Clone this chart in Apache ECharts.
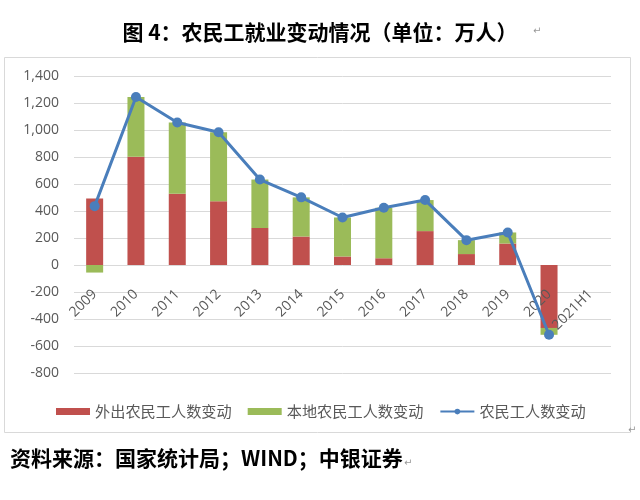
<!DOCTYPE html>
<html><head><meta charset="utf-8">
<script src="https://cdn.jsdelivr.net/npm/echarts@6/dist/echarts.min.js"></script>
<style>html,body{margin:0;padding:0;background:#fff}#c{width:640px;height:500px}</style>
</head><body><div id="c"></div>
<script>
const categories = ['2009','2010','2011','2012','2013','2014','2015','2016','2017','2018','2019','2020','2021H1'];
const outMigrant = [492, 802, 528, 473, 274, 211, 63, 50, 251, 81, 159, -466, null];
const localMigrant = [-56, 443, 527, 510, 359, 290, 289, 374, 230, 103, 82, -51, null];
const totalMigrant = [436, 1245, 1055, 983, 633, 501, 352, 424, 481, 184, 241, -517, null];
const seriesNames = ['外出农民工人数变动', '本地农民工人数变动', '农民工人数变动'];
const yTicks = {min: -800, max: 1400, interval: 200};

const chart = echarts.init(document.getElementById('c'), null, {renderer: 'canvas'});
const cjk = '"Noto Sans CJK SC", sans-serif';
const latin = '"Open Sans", "Noto Sans CJK SC", sans-serif';
const gridTop = 76, gridBottom = 127, plotH = 500 - gridTop - gridBottom;
// distance from bottom of plot to the zero line, derived from the axis range
const zeroOffset = plotH * (0 - yTicks.min) / (yTicks.max - yTicks.min);
chart.setOption({
  animation: false,
  backgroundColor: '#fff',
  title: {
    text: '图 4：农民工就业变动情况（单位：万人）',
    left: 'center', top: 17,
    textStyle: {fontFamily: cjk, fontSize: 21, fontWeight: 'bold', color: '#000'}
  },
  graphic: [
    {type: 'rect', shape: {x: 4.5, y: 57.5, width: 626, height: 375}, style: {fill: 'none', stroke: '#d9d9d9', lineWidth: 1}, z: -1},
    {type: 'text', left: 10, top: 448, style: {text: '资料来源：国家统计局；WIND；中银证券', font: 'bold 21px "Noto Sans CJK SC"', fill: '#000'}},
    {type: 'text', left: 533, top: 26, style: {text: '↵', font: '10px "DejaVu Sans"', fill: '#999'}},
    {type: 'text', left: 628, top: 425, style: {text: '↵', font: '10px "DejaVu Sans"', fill: '#999'}},
    {type: 'text', left: 404, top: 458, style: {text: '↵', font: '10px "DejaVu Sans"', fill: '#999'}}
  ],
  legend: {
    left: 51, top: 399,
    itemWidth: 34, itemHeight: 7, itemGap: 16,
    textStyle: {fontFamily: cjk, fontSize: 15.2, color: '#595959'},
    data: [
      {name: seriesNames[0], icon: 'rect'},
      {name: seriesNames[1], icon: 'rect'},
      {name: seriesNames[2]}
    ]
  },
  grid: {left: 74, right: 29, top: gridTop, bottom: gridBottom, containLabel: false},
  xAxis: {
    type: 'category', data: categories,
    offset: -zeroOffset,
    z: 3,
    axisLine: {show: false, onZero: false},
    axisTick: {show: false},
    axisLabel: {rotate: 45, margin: 27, interval: 0, fontFamily: latin, fontSize: 14, color: '#595959'}
  },
  yAxis: {
    type: 'value', min: yTicks.min, max: yTicks.max, interval: yTicks.interval,
    axisLine: {show: false}, axisTick: {show: false},
    splitLine: {lineStyle: {color: '#d9d9d9'}},
    axisLabel: {margin: 15, fontFamily: latin, fontSize: 14, color: '#595959',
      formatter: v => v.toLocaleString('en-US')}
  },
  series: [
    {name: seriesNames[0], type: 'bar', stack: 'a', data: outMigrant, barWidth: 17, itemStyle: {color: '#C0504D'}},
    {name: seriesNames[1], type: 'bar', stack: 'a', data: localMigrant, barWidth: 17, itemStyle: {color: '#9BBB59'}},
    {name: seriesNames[2], type: 'line', data: totalMigrant, symbol: 'circle', symbolSize: 10,
      lineStyle: {color: '#4A7EBB', width: 3}, itemStyle: {color: '#4A7EBB'}, z: 5}
  ]
});
</script></body></html>
